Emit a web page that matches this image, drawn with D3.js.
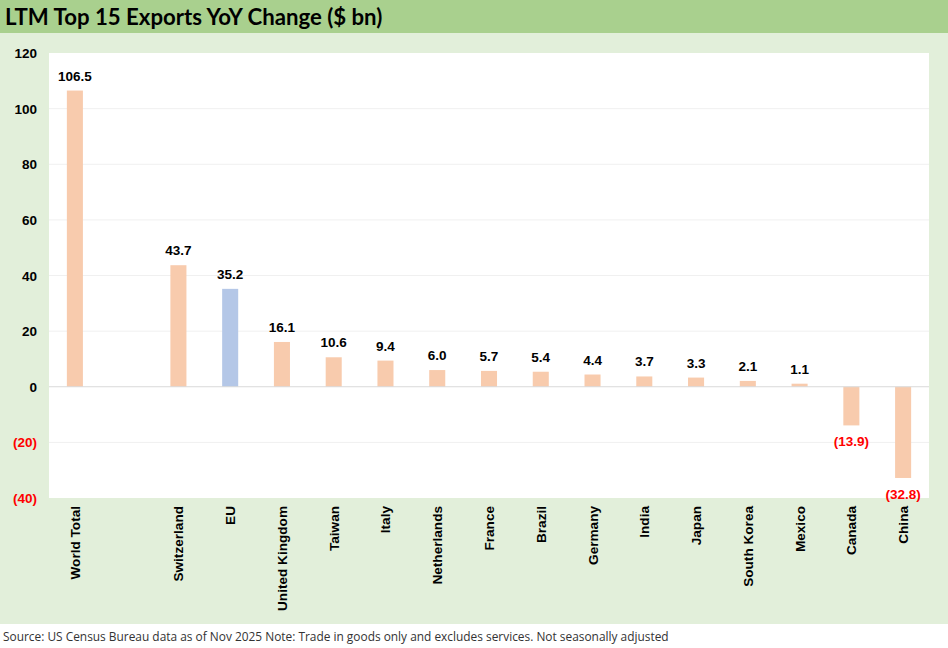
<!DOCTYPE html>
<html>
<head>
<meta charset="utf-8">
<script src="https://cdn.jsdelivr.net/npm/d3@7"></script>
<style>
  body { margin: 0; background: #fff; }
  svg { display: block; }
</style>
</head>
<body>
<script>
// categories and values (slot 2 is an empty gap in the original)
const categories = ["World Total", "", "Switzerland", "EU", "United Kingdom", "Taiwan", "Italy", "Netherlands", "France", "Brazil", "Germany", "India", "Japan", "South Korea", "Mexico", "Canada", "China"];
const values = [106.5, null, 43.7, 35.2, 16.1, 10.6, 9.4, 6.0, 5.7, 5.4, 4.4, 3.7, 3.3, 2.1, 1.1, -13.9, -32.8];
const yTicks = [120, 100, 80, 60, 40, 20, 0, -20, -40];

const width = 948, height = 648;
const plotLeft = 49, plotRight = 929, plotTop = 53, plotBottom = 498;

const fmt = v => v < 0 ? `(${d3.format(".1f")(-v)})` : d3.format(".1f")(v);
const tickFmt = v => v < 0 ? `(${-v})` : `${v}`;

const svg = d3.select("body").append("svg")
    .attr("width", width)
    .attr("height", height);

// backgrounds
svg.append("rect").attr("width", width).attr("height", height).attr("fill", "#e2efda");
svg.append("rect").attr("width", width).attr("height", 33).attr("fill", "#a9d08e");
svg.append("rect").attr("y", 624).attr("width", width).attr("height", height - 624).attr("fill", "#fff");
svg.append("rect")
    .attr("x", plotLeft).attr("y", plotTop)
    .attr("width", plotRight - plotLeft).attr("height", plotBottom - plotTop)
    .attr("fill", "#fff");

svg.append("text")
    .attr("x", 5).attr("y", 25)
    .attr("font-family", "Lato, 'Open Sans', sans-serif")
    .attr("font-weight", "bold")
    .attr("font-size", 22.2)
    .attr("fill", "#000")
    .text("LTM Top 15 Exports YoY Change ($ bn)");

const x = d3.scaleBand(d3.range(categories.length), [plotLeft, plotRight]).paddingInner(0.69).paddingOuter(0.345);
const y = d3.scaleLinear([-40, 120], [plotBottom, plotTop]);

// gridlines
svg.append("g")
    .selectAll("line")
    .data(yTicks.filter(t => t !== 0 && t !== 120 && t !== -40))
    .join("line")
    .attr("x1", plotLeft).attr("x2", plotRight)
    .attr("y1", d => y(d)).attr("y2", d => y(d))
    .attr("stroke", "#f0f0f0");

// y tick labels
svg.append("g")
    .selectAll("text")
    .data(yTicks)
    .join("text")
    .attr("x", 37)
    .attr("y", d => y(d) + 5)
    .attr("text-anchor", "end")
    .attr("font-family", "Arial, 'Liberation Sans', sans-serif")
    .attr("font-weight", "bold")
    .attr("font-size", 13.5)
    .attr("fill", d => d < 0 ? "#ff0000" : "#000")
    .text(tickFmt);

const data = categories.map((c, i) => ({i, c, v: values[i]})).filter(d => d.v != null);

// bars
svg.append("g")
    .selectAll("rect")
    .data(data)
    .join("rect")
    .attr("x", d => x(d.i))
    .attr("width", x.bandwidth())
    .attr("y", d => y(Math.max(0, d.v)))
    .attr("height", d => Math.abs(y(d.v) - y(0)))
    .attr("fill", d => d.c === "EU" ? "#b4c7e7" : "#f8cbad");

// zero line
svg.append("line")
    .attr("x1", plotLeft).attr("x2", plotRight)
    .attr("y1", y(0)).attr("y2", y(0))
    .attr("stroke", "#d9d9d9");

// value labels
svg.append("g")
    .selectAll("text")
    .data(data)
    .join("text")
    .attr("x", d => x(d.i) + x.bandwidth() / 2)
    .attr("y", d => d.v >= 0 ? y(d.v) - 10 : y(d.v) + 21)
    .attr("text-anchor", "middle")
    .attr("font-family", "Arial, 'Liberation Sans', sans-serif")
    .attr("font-weight", "bold")
    .attr("font-size", 13.5)
    .attr("fill", d => d.v < 0 ? "#ff0000" : "#000")
    .text(d => fmt(d.v));

// category labels
svg.append("g")
    .selectAll("text")
    .data(categories.map((c, i) => ({c, i})).filter(d => d.c))
    .join("text")
    .attr("transform", d => `translate(${x(d.i) + x.bandwidth() / 2 + 5},${plotBottom + 8}) rotate(-90)`)
    .attr("text-anchor", "end")
    .attr("font-family", "Arial, 'Liberation Sans', sans-serif")
    .attr("font-weight", "bold")
    .attr("font-size", 13.6)
    .attr("fill", "#000")
    .text(d => d.c);

// footnote
svg.append("text")
    .attr("x", 3).attr("y", 641)
    .attr("font-family", "'Open Sans', sans-serif")
    .attr("font-size", 11.9)
    .attr("fill", "#333")
    .text("Source: US Census Bureau data as of Nov 2025 Note: Trade in goods only and excludes services. Not seasonally adjusted");
</script>
</body>
</html>
